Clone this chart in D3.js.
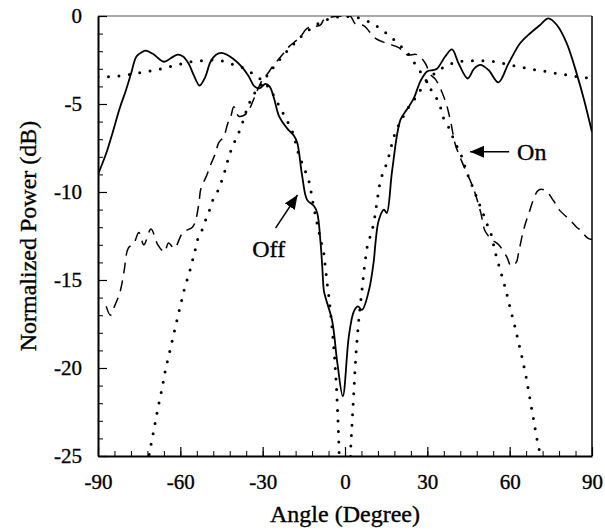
<!DOCTYPE html>
<html>
<head>
<meta charset="utf-8">
<script src="https://cdn.jsdelivr.net/npm/d3@7"></script>
<style>
  body { margin: 0; background: #fff; }
  svg { display: block; }
  text { font-family: "Liberation Serif", "Times New Roman", serif; fill: #000; stroke: #000; stroke-width: 0.35px; }
</style>
</head>
<body>
<svg id="chart" width="605" height="531"></svg>
<script>
// measured pattern, switch off (solid)
var offMeasAngle = [-90, -87, -85, -82, -80, -78, -76, -74, -72.5, -70, -66, -63, -61, -59, -57, -55, -53, -51, -49, -47, -45, -43, -41, -37.5, -35, -33, -31, -29, -27.5, -26, -24, -21, -18.6, -17.4, -15.6, -13.8, -11.3, -10.1, -8.9, -8.3, -7.7, -7.1, -4.7, -2.8, -0.8, 1.4, 3.2, 4.7, 6.2, 8.7, 10.5, 11.1, 12.3, 14.2, 15.2, 17.2, 20.2, 22.6, 25, 27.5, 29.9, 32, 33.5, 36.5, 39, 41.4, 44.7, 47, 49.3, 52.3, 55.9, 59.6, 63.8, 67.5, 71.1, 74.1, 77.2, 80.8, 84.4, 87, 90];
var offMeasDb = [-9.0, -7.8, -6.8, -5.2, -4.3, -3.3, -2.3, -2.05, -1.97, -2.15, -2.6, -2.35, -2.2, -2.3, -2.7, -3.4, -3.95, -3.5, -2.6, -2.2, -2.1, -2.2, -2.4, -2.9, -3.45, -4.0, -4.1, -3.86, -4.0, -4.6, -5.7, -6.4, -6.8, -7.2, -9.1, -10.45, -10.8, -11.2, -12.9, -14.2, -15.6, -16.0, -17.3, -19.7, -21.6, -18.2, -16.8, -16.5, -16.7, -15.6, -13.9, -12.9, -11.6, -11.0, -11.2, -8.75, -5.9, -5.3, -4.7, -3.7, -3.15, -3.07, -3.0, -2.3, -1.9, -2.7, -3.55, -3.0, -2.78, -3.07, -3.77, -2.69, -1.55, -0.98, -0.51, -0.13, -0.51, -1.55, -3.26, -4.7, -6.6];

// theory, switch off (dotted)
var offTheoAngle = [-90, -84, -80, -76, -72, -69, -66, -63, -59, -56, -52, -48, -45, -42, -38, -35, -32, -29, -26, -24, -20.6, -18.8, -17, -15.3, -14, -12.9, -11.7, -9.9, -7.7, -6.5, -5.9, -4.7, -3.8, -3.1, -2.6, -2.2, -2.0, 2.0, 2.1, 2.7, 3.3, 3.9, 4.5, 5.1, 6.3, 7.1, 8.1, 10.5, 11.7, 12.9, 14.7, 15.9, 17.7, 18.9, 22.6, 25, 27.5, 30, 33, 37, 40.8, 44.4, 48, 51.7, 55.3, 60.2, 66.2, 69.8, 73.5, 77.1, 80.8, 84.4, 90];
var offTheoDb = [-3.45, -3.45, -3.35, -3.26, -3.16, -3.07, -2.97, -2.84, -2.69, -2.6, -2.54, -2.5, -2.54, -2.69, -2.88, -3.13, -3.45, -3.8, -4.5, -5.1, -6.1, -6.7, -7.8, -8.5, -9.0, -9.5, -10.6, -12.0, -13.5, -15.2, -15.9, -17.7, -19.4, -21.1, -22.8, -24.5, -25.5, -25.5, -24.5, -22.8, -21.1, -19.4, -18.2, -17.1, -15.4, -14.2, -13.1, -11.8, -10.5, -9.3, -8.6, -8.0, -6.9, -6.4, -5.3, -4.8, -4.2, -3.7, -3.2, -2.8, -2.6, -2.54, -2.54, -2.54, -2.6, -2.78, -2.97, -3.07, -3.16, -3.26, -3.35, -3.45, -3.55];

// theory, switch on (dotted)
var onTheoAngle = [-72, -71, -69.5, -68.2, -66.7, -65.3, -63.6, -62, -60.2, -58.5, -56.4, -54.6, -53.7, -52.2, -50.8, -49.5, -48.3, -46.5, -45, -44.1, -42.9, -41.7, -40.4, -38.9, -37.4, -36.2, -35, -33.5, -32, -30.4, -28, -25, -20, -15, -10, -5, 0, 5, 10, 13.7, 17.3, 20.3, 23.3, 26.3, 28.5, 30.5, 32.3, 34.1, 35.9, 37.7, 39.6, 41.4, 42.6, 44.4, 46.2, 47.5, 48.7, 50.5, 51.7, 53.5, 54.5, 56.5, 58.5, 60.2, 62, 64.5, 66, 68, 69.9, 70.7, 72];
var onTheoDb = [-25.5, -24.6, -23.4, -22.3, -21.2, -20.0, -18.9, -17.8, -16.6, -15.5, -14.4, -13.3, -12.7, -12.2, -11.6, -11.1, -10.5, -10.0, -9.4, -9.0, -8.3, -7.7, -7.2, -6.7, -6.1, -5.5, -5.0, -4.5, -4.2, -3.9, -3.3, -2.7, -1.8, -1.0, -0.45, -0.1, 0, -0.1, -0.4, -0.8, -1.27, -1.7, -2.2, -2.9, -3.4, -3.9, -4.5, -4.8, -5.8, -6.3, -7.0, -7.6, -8.0, -8.9, -9.6, -10.1, -10.6, -11.3, -11.8, -12.5, -13.3, -14.4, -15.5, -16.6, -17.7, -19.4, -20.5, -22.3, -24.0, -24.6, -25.5];

// measured pattern, switch on (dashed)
var onMeasAngle = [-87, -85.5, -84, -82, -80.5, -79, -76.9, -75.1, -73.3, -70.7, -68.2, -65.8, -64.3, -62.2, -59.5, -58, -55.6, -54.4, -53.2, -52.5, -50.5, -48.8, -47.2, -46, -44.2, -42.7, -41.6, -40.5, -38.7, -35.5, -34.4, -31.3, -30, -28.3, -26.5, -22.3, -20.4, -16.2, -13.8, -8.9, -7.8, -4.2, 0, 2, 3.8, 6.8, 11.1, 15.2, 19.6, 22.6, 26.3, 29.3, 31, 33, 36.5, 38.5, 40.2, 43.2, 46.8, 49.5, 51, 53.5, 56, 59, 60.5, 62.4, 63.2, 65, 67, 70.5, 72.9, 76, 78, 82, 84.4, 86, 88.3, 90];
var onMeasDb = [-16.5, -17.0, -16.5, -15.7, -14.5, -13.2, -12.9, -12.3, -13.0, -12.1, -13.0, -13.4, -12.9, -13.2, -12.4, -12.2, -12.0, -11.6, -10.6, -9.8, -9.1, -8.4, -7.8, -7.2, -6.86, -6.1, -5.7, -5.15, -5.7, -5.5, -5.15, -4.0, -3.6, -3.3, -2.9, -2.1, -1.74, -1.18, -0.7, -0.5, -0.23, -0.04, 0, -0.02, -0.45, -0.55, -1.27, -1.55, -1.8, -2.2, -2.2, -2.7, -3.3, -3.6, -4.8, -6.0, -7.3, -8.5, -9.8, -11.2, -12.2, -12.7, -13.0, -13.7, -14.2, -14.0, -13.5, -12.2, -11.2, -9.9, -9.9, -10.5, -11.0, -11.6, -12.0, -12.2, -12.6, -12.7];

var xMajor = [-90, -60, -30, 0, 30, 60, 90];
var xMinor = d3.range(-90, 91, 6);
var yMajor = [0, -5, -10, -15, -20, -25];
var yMinor = d3.range(-25, 1, 1);

var svg = d3.select("#chart");
var plotL = 98, plotR = 592, plotT = 16, plotB = 456;

var x = d3.scaleLinear().domain([-90, 90]).range([plotL, plotR]);
var y = d3.scaleLinear().domain([-25, 0]).range([plotB, plotT]);

var defs = svg.append("defs");
defs.append("clipPath").attr("id", "plot")
  .append("rect").attr("x", plotL).attr("y", plotT)
  .attr("width", plotR - plotL).attr("height", plotB - plotT);

// frame (top and right)
svg.append("line").attr("x1", plotL).attr("x2", plotR).attr("y1", plotT).attr("y2", plotT)
  .attr("stroke", "#555").attr("stroke-width", 1);
svg.append("line").attr("x1", plotR).attr("x2", plotR).attr("y1", plotT).attr("y2", plotB)
  .attr("stroke", "#000").attr("stroke-width", 1.5);

// minor ticks
svg.append("g").attr("transform", "translate(0," + plotB + ")")
  .call(d3.axisBottom(x).tickValues(xMinor).tickSize(-5).tickSizeOuter(0).tickFormat(""))
  .call(g => g.select(".domain").remove());
svg.append("g").attr("transform", "translate(" + plotL + ",0)")
  .call(d3.axisLeft(y).tickValues(yMinor).tickSize(-5).tickSizeOuter(0).tickFormat(""))
  .call(g => g.select(".domain").remove());

// major ticks + labels (plain hyphen minus like the original)
var fmt = d => String(d);
var xAxis = svg.append("g").attr("transform", "translate(0," + plotB + ")")
  .call(d3.axisBottom(x).tickValues(xMajor).tickSize(-9).tickSizeOuter(0).tickPadding(18).tickFormat(fmt));
var yAxis = svg.append("g").attr("transform", "translate(" + plotL + ",0)")
  .call(d3.axisLeft(y).tickValues(yMajor).tickSize(-9).tickSizeOuter(0).tickPadding(16).tickFormat(fmt));

[xAxis, yAxis].forEach(g => {
  g.select(".domain").attr("stroke-width", 2);
  g.selectAll(".tick line").attr("stroke-width", 1.2);
  g.selectAll(".tick text").style("font-family", "Liberation Serif, serif").style("font-size", "21px")
    .attr("stroke", "#000").attr("stroke-width", 0.35);
});
svg.selectAll(".tick line").attr("stroke", "#000");

// axis titles
svg.append("text").attr("x", (plotL + plotR) / 2).attr("y", 522)
  .attr("text-anchor", "middle").style("font-size", "24px").text("Angle (Degree)");
svg.append("text").attr("transform", "translate(36," + (plotT + plotB) / 2 + ") rotate(-90)")
  .attr("text-anchor", "middle").style("font-size", "24px").text("Normalized Power (dB)");

// curves
function pts(a, v) { return a.map((d, i) => [d, v[i]]); }
var smooth = d3.line().x(d => x(d[0])).y(d => y(d[1])).curve(d3.curveCatmullRom.alpha(0.5));
var straight = d3.line().x(d => x(d[0])).y(d => y(d[1]));

var plot = svg.append("g").attr("clip-path", "url(#plot)");

plot.append("path").datum(pts(offTheoAngle, offTheoDb))
  .attr("d", straight).attr("fill", "none").attr("stroke", "#000")
  .attr("stroke-width", 3).attr("stroke-linecap", "round").attr("stroke-dasharray", "0,10.5");
plot.append("path").datum(pts(onTheoAngle, onTheoDb))
  .attr("d", straight).attr("fill", "none").attr("stroke", "#000")
  .attr("stroke-width", 3).attr("stroke-linecap", "round").attr("stroke-dasharray", "0,10.5");
plot.append("path").datum(pts(onMeasAngle, onMeasDb))
  .attr("d", smooth).attr("fill", "none").attr("stroke", "#000")
  .attr("stroke-width", 1.5).attr("stroke-dasharray", "11,7");
plot.append("path").datum(pts(offMeasAngle, offMeasDb))
  .attr("d", smooth).attr("fill", "none").attr("stroke", "#000")
  .attr("stroke-width", 1.8);

// annotations
defs.append("marker").attr("id", "head")
  .attr("viewBox", "0 0 14 12").attr("refX", 14).attr("refY", 6)
  .attr("markerWidth", 14).attr("markerHeight", 12)
  .attr("markerUnits", "userSpaceOnUse").attr("orient", "auto")
  .append("path").attr("d", "M0,0L14,6L0,12Z").attr("fill", "#000");

svg.append("line")
  .attr("x1", x(-25.3)).attr("y1", y(-12.05)).attr("x2", x(-17.3)).attr("y2", y(-10.17))
  .attr("stroke", "#000").attr("stroke-width", 1.5).attr("marker-end", "url(#head)");
svg.append("text").attr("x", x(-27.8)).attr("y", y(-13.7))
  .attr("text-anchor", "middle").style("font-size", "24px").text("Off");

svg.append("line")
  .attr("x1", x(59.8)).attr("y1", y(-7.71)).attr("x2", x(45.6)).attr("y2", y(-7.71))
  .attr("stroke", "#000").attr("stroke-width", 1.5).attr("marker-end", "url(#head)");
svg.append("text").attr("x", x(62.7)).attr("y", y(-8.18))
  .style("font-size", "24px").text("On");
</script>
</body>
</html>
